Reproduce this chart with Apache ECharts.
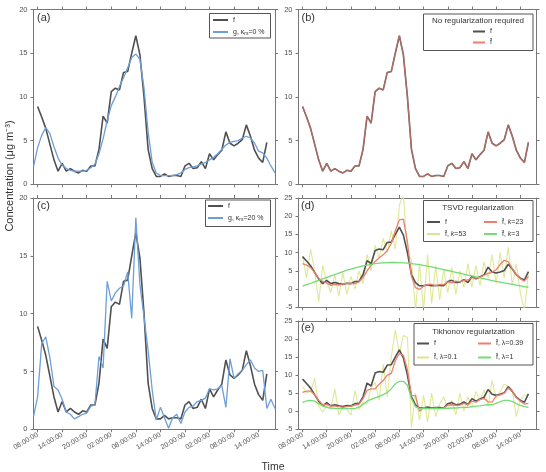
<!DOCTYPE html>
<html>
<head>
<meta charset="utf-8">
<script src="https://cdn.jsdelivr.net/npm/echarts@6/dist/echarts.min.js"></script>
<style>
  html, body { margin: 0; padding: 0; background: #fff; }
  #chart { width: 546px; height: 472px; }
</style>
</head>
<body>
<div id="chart"></div>
<script>
// ------------------------------------------------------------
// DATA  (x = hours counted from 08:00 on the first day)
// ------------------------------------------------------------
const tickHours = [0, 6, 12, 18, 24, 30, 36, 42, 48, 54];
const tickLabels = ['08:00:00', '14:00:00', '20:00:00', '02:00:00', '08:00:00',
                    '14:00:00', '20:00:00', '02:00:00', '08:00:00', '14:00:00'];

const fStart = 0;   // f and all estimates start at 08:00
const gStart = -1;  // g is one hour wider on each side

// true concentration f
const fTrue = [8.9, 7.7, 6.4, 4.6, 2.8, 1.5, 2.4, 1.5, 1.8, 1.5,
               1.3, 1.6, 1.5, 2.1, 2.1, 4.0, 7.8, 7.0, 10.6, 11.0,
               10.8, 12.8, 12.9, 15.0, 17.0, 14.8, 10.0, 4.0, 1.8, 0.9,
               0.9, 1.2, 0.9, 1.0, 1.0, 0.9, 2.1, 2.4, 1.8, 1.9,
               2.6, 1.8, 3.5, 2.8, 3.4, 3.9, 6.0, 4.7, 4.4, 4.7,
               5.1, 6.8, 5.5, 3.9, 3.0, 2.5, 4.8];

// measured g, noise 0 %
const g0 = [2.0, 4.2, 5.6, 6.5, 5.8, 4.3, 3.0, 2.2, 1.8, 1.6,
            1.5, 1.5, 1.5, 1.6, 1.9, 2.3, 3.5, 5.2, 7.3, 9.0,
            10.0, 11.2, 12.2, 13.3, 14.5, 14.9, 14.3, 11.0, 6.0, 2.5,
            1.3, 1.0, 1.0, 1.0, 1.0, 1.1, 1.3, 1.7, 1.9, 2.0,
            2.1, 2.3, 2.5, 2.8, 3.1, 3.5, 4.0, 4.5, 4.8, 4.9,
            5.0, 5.3, 5.5, 5.3, 4.7, 3.8, 3.6, 3.0, 2.1, 1.3];

// measured g, noise 20 %
const g20 = [1.1, 2.8, 7.4, 8.0, 6.2, 3.7, 3.4, 2.6, 1.5, 1.3,
             0.9, 1.1, 1.3, 1.4, 2.0, 2.1, 6.3, 5.3, 12.8, 11.1,
             11.8, 12.2, 12.4, 13.6, 9.6, 18.3, 12.5, 9.7, 6.8, 3.4,
             0.8, 1.9, 1.0, 0.1, 1.0, 1.3, 0.5, 1.5, 1.9, 2.0,
             2.4, 2.5, 2.7, 3.5, 3.4, 3.5, 3.8, 1.9, 6.1, 4.4,
             4.8, 5.1, 5.6, 6.0, 5.3, 5.0, 5.1, 1.8, 2.6, 1.8];

// TSVD estimates
const tsvd53 = [9.0, 3.0, 11.0, 5.0, -3.5, 6.5, 2.0, -1.0, 4.0, -2.0,
                4.5, -1.5, 3.5, 0.0, 5.0, 1.5, 9.5, 5.0, 12.0, 8.5,
                14.0, 10.0, 16.0, 11.0, 23.0, 26.0, 10.0, 8.0, -6.0, 7.0,
                -6.0, 9.5, -4.0, 6.5, -3.0, 5.5, -1.0, 6.0, -1.5, 5.0,
                0.5, 7.0, 0.5, 6.5, 1.0, 7.5, 3.0, 9.5, 1.5, 10.0,
                3.0, 11.5, 1.0, 7.0, -1.0, -6.0, 4.5];
const tsvd23 = [7.0, 6.6, 5.9, 4.6, 3.0, 2.1, 1.7, 1.0, 1.3, 1.1,
                1.4, 1.5, 1.6, 1.5, 2.0, 3.2, 5.0, 6.5, 7.6, 8.6,
                9.4, 10.6, 12.5, 16.0, 19.0, 19.2, 13.0, 3.5, 0.4, -0.1,
                0.8, 1.3, 1.3, 0.9, 1.3, 1.2, 2.0, 1.7, 2.2, 2.0,
                2.4, 2.5, 3.1, 3.0, 3.3, 3.8, 4.3, 4.6, 5.3, 6.8,
                7.9, 7.5, 5.6, 4.0, 2.8, 2.2, 3.5];
const tsvd3 = [0.8, 1.2, 1.6, 2.0, 2.4, 2.8, 3.2, 3.6, 4.0, 4.4,
               4.8, 5.2, 5.5, 5.8, 6.1, 6.4, 6.6, 6.8, 7.0, 7.1,
               7.2, 7.25, 7.3, 7.3, 7.25, 7.2, 7.1, 7.0, 6.85, 6.7,
               6.5, 6.3, 6.1, 5.85, 5.6, 5.35, 5.1, 4.85, 4.6, 4.35,
               4.1, 3.85, 3.6, 3.35, 3.1, 2.85, 2.6, 2.35, 2.1, 1.9,
               1.7, 1.5, 1.3, 1.1, 0.9, 0.7, 0.5];

// Tikhonov estimates
const tikh01 = [6.9, 5.0, 5.5, 9.2, 1.5, -0.3, 1.5, 0.5, 6.3, -1.0,
                1.0, 0.5, -1.0, 5.8, 0.5, 2.5, 2.0, 6.5, 8.0, 3.0,
                13.0, 4.0, 15.0, 22.5, 16.0, 21.0, 20.5, -4.5, 5.0, -2.5,
                4.5, -3.0, 5.0, -1.5, 2.0, 4.0, 0.5, 3.0, -1.0, 5.0,
                0.0, 4.0, 1.0, 5.5, 3.0, 6.0, 1.5, 8.5, 3.5, 5.5,
                7.5, 7.0, 6.0, -1.5, 3.0, 4.5, 4.5];
const tikh039 = [5.2, 5.6, 5.6, 4.6, 3.0, 1.8, 1.9, 1.4, 1.4, 1.3,
                 1.1, 1.3, 1.4, 1.7, 2.0, 3.5, 5.8, 6.2, 6.2, 7.5,
                 8.5, 10.0, 10.5, 14.0, 16.0, 15.5, 11.5, 4.4, 4.3, 0.0,
                 1.0, 0.8, 0.8, 0.9, 0.8, 0.9, 1.7, 1.8, 1.6, 1.7,
                 2.2, 1.8, 2.8, 2.5, 3.3, 3.5, 2.6, 2.5, 4.3, 4.5,
                 5.0, 6.4, 5.6, 3.8, 2.8, 2.0, 2.2];
const tikh1 = [2.4, 2.9, 3.0, 2.8, 2.1, 1.5, 1.1, 0.9, 0.8, 0.7,
               0.7, 0.7, 0.7, 0.8, 1.1, 1.9, 2.8, 3.3, 3.7, 4.1,
               4.6, 5.2, 6.2, 7.6, 8.3, 8.3, 7.2, 3.5, 1.3, 0.7,
               0.7, 0.7, 0.7, 0.7, 0.7, 0.7, 0.8, 0.9, 0.9, 1.0,
               1.1, 1.1, 1.3, 1.4, 1.5, 1.7, 1.8, 1.8, 2.2, 2.7,
               3.0, 3.0, 2.7, 2.1, 1.6, 1.3, 1.1];

// ------------------------------------------------------------
// LAYOUT
// ------------------------------------------------------------
const FONT = 'Liberation Sans, Arial, sans-serif';
const AXIS = '#777';
const LABEL = '#555';

const grids = [
  { left: 33.5,  top: 9.5,  width: 241.5, height: 174.8, yMin: 0,  yMax: 20, xLabels: false }, // a
  { left: 298.5, top: 9.5,  width: 238,   height: 174.8, yMin: 0,  yMax: 20, xLabels: false }, // b
  { left: 33.5,  top: 198,  width: 241.5, height: 231.3, yMin: 0,  yMax: 20, xLabels: true  }, // c
  { left: 298.5, top: 198,  width: 238,   height: 109.3, yMin: -5, yMax: 25, xLabels: false }, // d
  { left: 298.5, top: 321,  width: 238,   height: 108.3, yMin: -5, yMax: 25, xLabels: true  }  // e
];

const colors = {
  f: '#505050',
  blue: '#6d9fd6',
  red: '#ec7f6f',
  yellow: '#dde58c',
  green: '#74dc74'
};

function toPts(arr, start) {
  return arr.map(function(v, i) { return [start + i, v]; });
}

const xAxes = [];
const yAxes = [];
grids.forEach(function(g, i) {
  [false, true].forEach(function(isTop) {
    xAxes.push({
      type: 'value', gridIndex: i, min: -1, max: 58,
      position: isTop ? 'top' : 'bottom',
      axisLine: { show: true, onZero: false, lineStyle: { color: AXIS, width: 1 } },
      axisTick: { show: true, length: 3, customValues: tickHours, lineStyle: { color: AXIS } },
      axisLabel: {
        show: g.xLabels && !isTop, customValues: tickHours, rotate: 30,
        fontSize: 7, fontFamily: FONT, color: LABEL, margin: 5,
        formatter: function(v) { return tickLabels[tickHours.indexOf(v)]; }
      },
      splitLine: { show: false }
    });
    yAxes.push({
      type: 'value', gridIndex: i, min: g.yMin, max: g.yMax, interval: 5,
      position: isTop ? 'right' : 'left',
      axisLine: { show: true, onZero: false, lineStyle: { color: AXIS, width: 1 } },
      axisTick: { show: true, length: 3, lineStyle: { color: AXIS } },
      axisLabel: { show: !isTop, fontSize: 7.5, fontFamily: FONT, color: LABEL, margin: 6 },
      splitLine: { show: false }
    });
  });
});

function line(name, gridIdx, arr, start, color, width, opacity, z) {
  return {
    name: name, type: 'line', xAxisIndex: gridIdx * 2, yAxisIndex: gridIdx * 2,
    data: toPts(arr, start), symbol: 'none', color: color,
    lineStyle: { color: color, width: width, opacity: opacity },
    z: z, silent: true, clip: true
  };
}

const series = [
  // (a)
  line('f', 0, fTrue, fStart, colors.f, 1.6, 1, 2),
  line('g0', 0, g0, gStart, colors.blue, 1.3, 1, 3),
  // (b)
  line('f', 1, fTrue, fStart, colors.f, 1.6, 1, 2),
  line('fb', 1, fTrue, fStart, colors.red, 1.3, 0.6, 3),
  // (c)
  line('f', 2, fTrue, fStart, colors.f, 1.6, 1, 2),
  line('g20', 2, g20, gStart, colors.blue, 1.3, 1, 3),
  // (d)
  line('k53', 3, tsvd53, fStart, colors.yellow, 1.1, 0.9, 2),
  line('f', 3, fTrue, fStart, colors.f, 1.6, 1, 3),
  line('k23', 3, tsvd23, fStart, colors.red, 1.3, 1, 4),
  line('k3', 3, tsvd3, fStart, colors.green, 1.3, 1, 4),
  // (e)
  line('l01', 4, tikh01, fStart, colors.yellow, 1.1, 0.9, 2),
  line('f', 4, fTrue, fStart, colors.f, 1.6, 1, 3),
  line('l039', 4, tikh039, fStart, colors.red, 1.3, 1, 4),
  line('l1', 4, tikh1, fStart, colors.green, 1.3, 1, 4)
];

// legend labels
const legendText = {
  f: 'f',
  g0: 'g, κ{s|rs}=0 %',
  g20: 'g, κ{s|rs}=20 %',
  fb: 'f\u0302',
  k53: 'f\u0302, {i|k}=53',
  k23: 'f\u0302, {i|k}=23',
  k3: 'f\u0302, {i|k}=3',
  l01: 'f\u0302, λ=0.1',
  l039: 'f\u0302, λ=0.39',
  l1: 'f\u0302, λ=1'
};

function legend(names, left, top, gap, iconW) {
  return {
    data: names, orient: 'vertical', left: left, top: top,
    itemWidth: iconW, itemHeight: 2, itemGap: gap, icon: 'rect',
    padding: 0, selectedMode: false, z: 20,
    textStyle: {
      fontSize: 7, fontFamily: FONT, color: '#333', lineHeight: 9,
      rich: {
        s: { fontSize: 5, fontFamily: FONT, color: '#333', padding: [3, 0, 0, 0] },
        i: { fontSize: 7, fontFamily: FONT, color: '#333', fontStyle: 'italic' }
      }
    },
    formatter: function(name) { return legendText[name]; }
  };
}

const legends = [
  legend(['f', 'g0'], 213, 15.5, 3, 15),
  legend(['f', 'fb'], 473, 27, 2, 12),
  legend(['f', 'g20'], 208, 201.5, 3, 15),
  legend(['f', 'k53'], 427, 217.5, 3, 13),
  legend(['k23', 'k3'], 484, 217.5, 3, 13),
  legend(['f', 'l01'], 417, 339, 5, 12),
  legend(['l039', 'l1'], 478, 339, 5, 13)
];

function box(x1, y1, x2, y2) {
  return {
    type: 'rect', z: 10, silent: true,
    shape: { x: x1, y: y1, width: x2 - x1, height: y2 - y1 },
    style: { fill: '#fff', stroke: '#555', lineWidth: 1 }
  };
}

function txt(str, x, y, size, opts) {
  opts = opts || {};
  return {
    type: 'text', z: 20, silent: true, x: x, y: y, rotation: opts.rotation || 0,
    style: {
      text: str, fontSize: size, fontFamily: FONT, fill: opts.color || '#333',
      fontWeight: opts.weight || 'normal',
      align: opts.align || 'left', verticalAlign: 'middle'
    }
  };
}

const graphics = [
  box(209.5, 13.5, 270.5, 38),
  box(423.5, 14, 533, 50.5),
  box(205.5, 200, 270.5, 226.5),
  box(423.5, 200.5, 533, 241.5),
  box(414, 323.5, 533, 365),
  txt('No regularization required', 478, 21, 8, { align: 'center' }),
  txt('TSVD regularization', 478, 208, 8, { align: 'center' }),
  txt('Tikhonov regularization', 473.5, 331.5, 8, { align: 'center' }),
  txt('(a)', 37, 17.5, 11),
  txt('(b)', 301.5, 17.5, 11),
  txt('(c)', 37, 206, 11),
  txt('(d)', 301, 206, 11),
  txt('(e)', 301, 327.5, 11),
  txt('Concentration (μg m⁻³)', 10, 176, 11, { align: 'center', rotation: Math.PI / 2 }),
  txt('Time', 273, 467, 10.5, { align: 'center' })
];

const chart = echarts.init(document.getElementById('chart'), null, { renderer: 'canvas' });
chart.setOption({
  animation: false,
  backgroundColor: '#fff',
  grid: grids.map(function(g) {
    return { left: g.left, top: g.top, width: g.width, height: g.height, containLabel: false };
  }),
  xAxis: xAxes,
  yAxis: yAxes,
  legend: legends,
  series: series,
  graphic: { elements: graphics }
});
</script>
</body>
</html>
